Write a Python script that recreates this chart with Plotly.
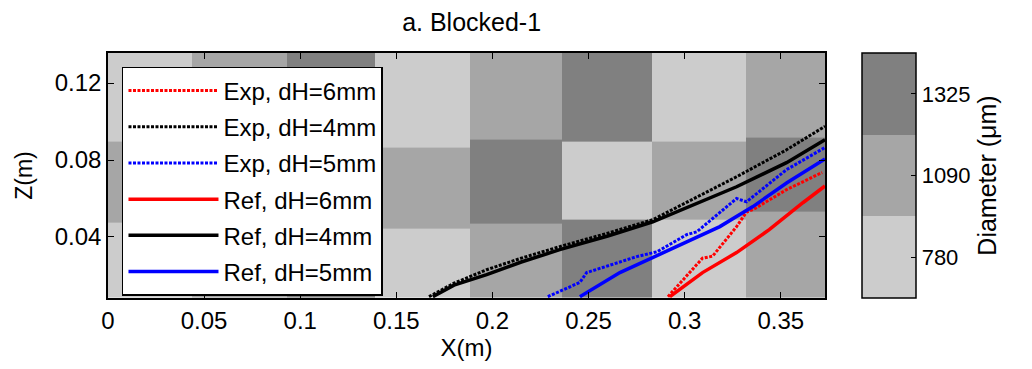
import numpy as np
import plotly.graph_objects as go

# ---------------- data ----------------
levels = [780, 1090, 1325]                     # diameter classes (um)
level_colors = ["#cccccc", "#a6a6a6", "#808080"]

# block column edges (m)
col_edges = [0.0, 0.0436, 0.093, 0.1388, 0.1882, 0.2361, 0.283, 0.3319, 0.373]
# diameter of each block, per row
top_d = [780, 1090, 1325, 780, 1090, 1325, 780, 1090]
mid_d = [1090, 1325, 780, 1090, 1325, 780, 1090, 1325]
bot_d = [780, 1090, 1325, 780, 1090, 1325, 780, 1090]
# row boundaries in each column (m)
upper_bound = [0.0897, 0.088, 0.088, 0.0865, 0.091, 0.0895, 0.0895, 0.0916]
lower_bound = [0.0473, 0.048, 0.048, 0.0445, 0.047, 0.049, 0.049, 0.0531]

# trajectories
exp6_x = [0.2913, 0.3093, 0.3145, 0.327, 0.3322, 0.3355, 0.3495, 0.353, 0.3715]
exp6_z = [0.0090, 0.0290, 0.0300, 0.0454, 0.0530, 0.0542, 0.0625, 0.0646, 0.0735]
exp4_x = [0.167, 0.180, 0.197, 0.215, 0.235, 0.260, 0.2834, 0.305, 0.327, 0.353, 0.373]
exp4_z = [0.0090, 0.0160, 0.0230, 0.0290, 0.0350, 0.0420, 0.0490, 0.0600, 0.0713, 0.0853, 0.0975]
exp5_x = [0.2288, 0.2455, 0.249, 0.275, 0.2855, 0.301, 0.3063, 0.327, 0.3322, 0.353, 0.373]
exp5_z = [0.0090, 0.0164, 0.0215, 0.0298, 0.0323, 0.0412, 0.0427, 0.0600, 0.0583, 0.0750, 0.0865]
ref6_x = [0.2923, 0.3093, 0.327, 0.344, 0.3615, 0.373]
ref6_z = [0.0090, 0.0215, 0.0319, 0.0438, 0.0578, 0.0665]
ref4_x = [0.169, 0.180, 0.197, 0.215, 0.235, 0.260, 0.2834, 0.305, 0.327, 0.353, 0.373]
ref4_z = [0.0090, 0.0150, 0.0204, 0.0270, 0.0334, 0.0405, 0.0479, 0.0570, 0.0661, 0.0786, 0.0905]
ref5_x = [0.2455, 0.2663, 0.2923, 0.3183, 0.3355, 0.3532, 0.373]
ref5_z = [0.0090, 0.0215, 0.0334, 0.0454, 0.0558, 0.0682, 0.0805]

x_ticks = [0, 0.05, 0.1, 0.15, 0.2, 0.25, 0.3, 0.35]
z_ticks = [0.04, 0.08, 0.12]
x_range = [0, 0.373]
z_range = [0.0083, 0.1356]

# ---------------- background field ----------------
y_edges = np.round(np.arange(z_range[0], z_range[1] + 0.0005, 0.0005), 5)
y_cent = (y_edges[:-1] + y_edges[1:]) / 2
zgrid = np.zeros((len(y_cent), len(top_d)))
for j in range(len(top_d)):
    for i, yc in enumerate(y_cent):
        if yc >= upper_bound[j]:
            d = top_d[j]
        elif yc >= lower_bound[j]:
            d = mid_d[j]
        else:
            d = bot_d[j]
        zgrid[i, j] = levels.index(d)

cs = []
n = len(levels)
for k, c in enumerate(level_colors):
    cs.append([k / n, c])
    cs.append([(k + 1) / n, c])

FONT = "Liberation Sans, Arial, sans-serif"

fig = go.Figure()
fig.add_trace(go.Heatmap(
    x=col_edges, y=y_edges, z=zgrid, colorscale=cs, zmin=-0.5, zmax=n - 0.5,
    showlegend=False, hoverinfo="skip",
    colorbar=dict(
        x=1.0516, xanchor="left", xpad=0, y=0.5, yanchor="middle", len=1, ypad=0,
        thickness=54, outlinecolor="black", outlinewidth=1.5,
        tickvals=list(range(n)), ticktext=[str(v) for v in levels],
        ticks="inside", ticklen=5, tickcolor="black",
        tickfont=dict(family=FONT, size=22, color="black"),
        title=dict(text="Diameter (μm)", side="right",
                   font=dict(family=FONT, size=25, color="black")),
    ),
))

series = [
    ("Exp, dH=6mm", exp6_x, exp6_z, "red", "3px,1.5px", 3),
    ("Exp, dH=4mm", exp4_x, exp4_z, "black", "3px,1.5px", 3),
    ("Exp, dH=5mm", exp5_x, exp5_z, "blue", "3px,1.5px", 3),
    ("Ref, dH=6mm", ref6_x, ref6_z, "red", "solid", 3.5),
    ("Ref, dH=4mm", ref4_x, ref4_z, "black", "solid", 3.5),
    ("Ref, dH=5mm", ref5_x, ref5_z, "blue", "solid", 3.5),
]
for name, xs, zs, col, dash, w in series:
    fig.add_trace(go.Scatter(x=xs, y=zs, mode="lines", name=name, legendgroup=name,
                             line=dict(color=col, dash=dash, width=w)))

axis_common = dict(showgrid=False, zeroline=False, showline=True, linecolor="black",
                   linewidth=1.5, mirror="ticks", ticks="inside", ticklen=6,
                   tickcolor="black", tickfont=dict(family=FONT, size=24, color="black"))
fig.update_xaxes(range=x_range, tickvals=x_ticks, ticktext=[f"{v:g}" for v in x_ticks],
                 title=dict(text="X(m)", font=dict(family=FONT, size=24, color="black"), standoff=4),
                 **axis_common)
fig.update_yaxes(range=z_range, tickvals=z_ticks, ticktext=[f"{v:.2f}" for v in z_ticks],
                 title=dict(text="Z(m)", font=dict(family=FONT, size=23, color="black"), standoff=16),
                 **axis_common)

fig.update_layout(
    width=1032, height=369,
    margin=dict(l=108, r=207, t=53, b=71),
    paper_bgcolor="white", plot_bgcolor="white",
    title=dict(text="a. Blocked-1", x=0.457, xanchor="center", y=0.94, yanchor="middle",
               font=dict(family=FONT, size=25, color="black")),
    legend=dict(x=0.0195, y=0.943, xanchor="left", yanchor="top",
                bgcolor="white", bordercolor="black", borderwidth=1.5,
                font=dict(family=FONT, size=24, color="black"),
                tracegroupgap=2, traceorder="grouped", itemwidth=90),
    showlegend=True,
)

fig.write_html("out.html")
